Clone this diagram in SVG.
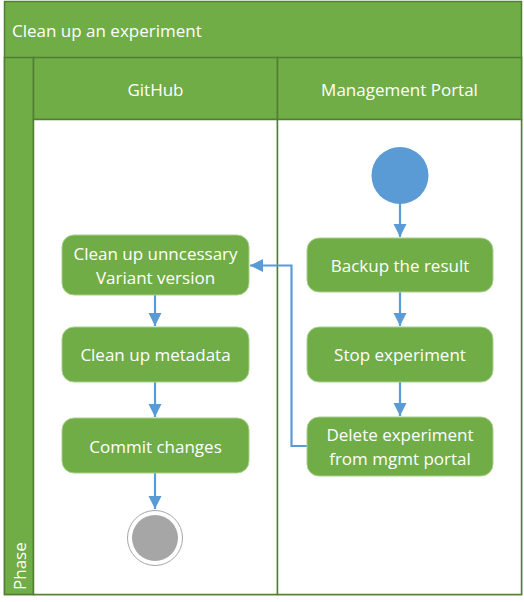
<svg xmlns="http://www.w3.org/2000/svg" width="524" height="602" viewBox="0 0 524 602">
<defs>
<style>
.band{fill:#70AD47;stroke:#507E32;stroke-width:1.5}
.lane{fill:#FFFFFF;stroke:#507E32;stroke-width:1.5}
.act{fill:#70AD47;stroke:#A9D18E;stroke-width:1}
.t{font-family:"Open Sans","Noto Sans","DejaVu Sans",sans-serif;font-size:17px;fill:#FFFFFF}
.c{text-anchor:middle;dominant-baseline:central}
.edge{fill:none;stroke:#5B9BD5;stroke-width:2.2}
</style>
<marker id="arr" viewBox="0 0 10 10" refX="10" refY="5" markerWidth="6" markerHeight="6" markerUnits="strokeWidth" orient="auto">
<path d="M0,0 L10,5 L0,10 Z" fill="#5B9BD5"/>
</marker>
</defs>
<rect width="524" height="602" fill="#FFFFFF"/>
<g id="pool">
<rect class="band" x="4.5" y="1.5" width="517" height="593"/>
<text class="t" x="12" y="30" dominant-baseline="central">Clean up an experiment</text>
<rect class="band" x="4.5" y="57.5" width="29" height="537"/>
<text class="t" transform="translate(19,590) rotate(-90)" dominant-baseline="central">Phase</text>
</g>
<g id="lane-github">
<rect class="band" x="33.5" y="57.5" width="244" height="62"/>
<rect class="lane" x="33.5" y="119.5" width="244" height="475"/>
<text class="t c" x="155.5" y="89">GitHub</text>
</g>
<g id="lane-portal">
<rect class="band" x="277.5" y="57.5" width="244" height="62"/>
<rect class="lane" x="277.5" y="119.5" width="244" height="475"/>
<text class="t c" x="399.5" y="89">Management Portal</text>
</g>
<g id="connectors">
<path class="edge" d="M400,204 V237" marker-end="url(#arr)"/>
<path class="edge" d="M400,292 V326" marker-end="url(#arr)"/>
<path class="edge" d="M400,382 V416" marker-end="url(#arr)"/>
<path class="edge" d="M307,446 H291.5 V265.5 H250" marker-end="url(#arr)"/>
<path class="edge" d="M155,295 V326" marker-end="url(#arr)"/>
<path class="edge" d="M155,382 V417" marker-end="url(#arr)"/>
<path class="edge" d="M155,473 V509" marker-end="url(#arr)"/>
</g>
<g id="start">
<circle cx="400" cy="175.5" r="28.5" fill="#5B9BD5"/>
</g>
<g id="backup">
<rect class="act" x="307" y="238" width="186" height="54" rx="12"/>
<text class="t c" x="400" y="265">Backup the result</text>
</g>
<g id="stop">
<rect class="act" x="307" y="327" width="186" height="55" rx="12"/>
<text class="t c" x="400" y="354">Stop experiment</text>
</g>
<g id="delete">
<rect class="act" x="307" y="417" width="186" height="59" rx="12"/>
<text class="t c" x="400" y="434">Delete experiment</text>
<text class="t c" x="400" y="458">from mgmt portal</text>
</g>
<g id="cleanup-variant">
<rect class="act" x="62" y="235" width="187" height="60" rx="12"/>
<text class="t c" x="155.5" y="253">Clean up unncessary</text>
<text class="t c" x="155.5" y="277">Variant version</text>
</g>
<g id="cleanup-metadata">
<rect class="act" x="62" y="327" width="187" height="55" rx="12"/>
<text class="t c" x="155.5" y="354">Clean up metadata</text>
</g>
<g id="commit">
<rect class="act" x="62" y="418" width="187" height="55" rx="12"/>
<text class="t c" x="155.5" y="446">Commit changes</text>
</g>
<g id="end">
<circle cx="155" cy="538" r="27.5" fill="#FFFFFF" stroke="#A6A6A6" stroke-width="1"/>
<circle cx="155" cy="538" r="23" fill="#A6A6A6"/>
</g>
</svg>
